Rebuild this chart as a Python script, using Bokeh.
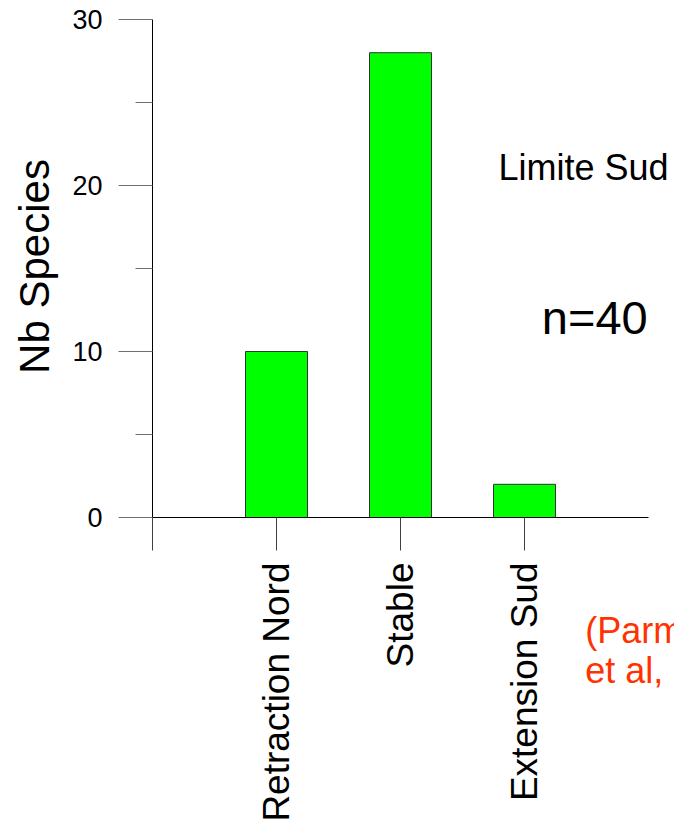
import math
from bokeh.plotting import figure
from bokeh.models import Label, FixedTicker, Range1d, ColumnDataSource
from bokeh.embed import file_html
from bokeh.resources import INLINE

# ---- data ----
categories = ["Retraction Nord", "Stable", "Extension Sud"]
counts = [10, 28, 2]
y_major_ticks = [0, 10, 20, 30]
y_minor_ticks = [5, 15, 25]
y_title = "Nb Species"
title_text = "Limite Sud"
n_text = "n=40"
source_lines = ["(Parmesan", "et al, 2005)"]

FONT = "Liberation Sans"

xpos = [i + 1 for i in range(len(categories))]
src = ColumnDataSource(dict(x=xpos, top=counts, cat=categories))

x_end = len(categories) + 1          # x axis spans 0 .. 4
y_end = y_major_ticks[-1]            # y axis spans 0 .. 30

# whole canvas is the frame; scale: 124 px per category, 16.6 px per species
W, H = 674, 826
X0, Y0 = 152, 517                    # pixel position of the data origin
PX, PY = 124.0, 16.6
p = figure(output_backend="svg", toolbar_location=None,
           frame_width=W, frame_height=H,
           x_range=Range1d(-X0 / PX, (W - X0) / PX),
           y_range=Range1d(-(H - Y0) / PY, Y0 / PY),
           min_border_left=0, min_border_right=0, min_border_top=0,
           min_border_bottom=0)
p.outline_line_color = None
p.xgrid.visible = False
p.ygrid.visible = False
p.background_fill_color = "white"
p.border_fill_color = "white"

p.vbar(x="x", top="top", bottom=0, width=0.5, source=src,
       fill_color="#00FF00", line_color="#333333", line_width=1)

# y axis, crossing at x = 0
ya = p.yaxis[0]
ya.fixed_location = 0
ya.bounds = (0, y_end)
ya.ticker = FixedTicker(ticks=y_major_ticks, minor_ticks=y_minor_ticks)
ya.axis_line_color = "black"
ya.axis_line_width = 1
ya.major_tick_in = 0
ya.major_tick_out = 34
ya.minor_tick_in = 0
ya.minor_tick_out = 17
ya.major_tick_line_color = "#707070"
ya.minor_tick_line_color = "#707070"
ya.major_label_text_font = FONT
ya.major_label_text_font_size = "27px"
ya.major_label_text_color = "black"
ya.major_label_standoff = 16

# x axis, crossing at y = 0
xa = p.xaxis[0]
xa.fixed_location = 0
xa.bounds = (0, x_end)
xa.ticker = FixedTicker(ticks=[0] + xpos, minor_ticks=[])
xa.major_label_overrides = {0: "", **{x: c for x, c in zip(xpos, categories)}}
xa.major_label_orientation = math.pi / 2
xa.axis_line_color = "black"
xa.axis_line_width = 1
xa.major_tick_in = 0
xa.major_tick_out = 33
xa.major_tick_line_color = "#404040"
xa.major_label_text_font = FONT
xa.major_label_text_font_size = "37px"
xa.major_label_text_color = "black"
xa.major_label_standoff = 12

p.add_layout(Label(x=-0.952, y=15.12, text=y_title, angle=math.pi / 2,
                   text_font=FONT, text_font_size="42px", text_color="black",
                   text_baseline="middle", text_align="center"))
p.add_layout(Label(x=2.79, y=21.11, text=title_text, text_font=FONT,
                   text_font_size="36px", text_color="black",
                   text_baseline="middle", text_align="left"))
p.add_layout(Label(x=3.14, y=12.02, text=n_text, text_font=FONT,
                   text_font_size="47px", text_color="black",
                   text_baseline="middle", text_align="left"))
for ln, yy in zip(source_lines, [-6.78, -9.2]):
    p.add_layout(Label(x=3.49, y=yy, text=ln, text_font=FONT,
                       text_font_size="36px", text_color="#FF3300",
                       text_baseline="middle", text_align="left"))

open("out.html", "w").write(file_html(p, INLINE))
